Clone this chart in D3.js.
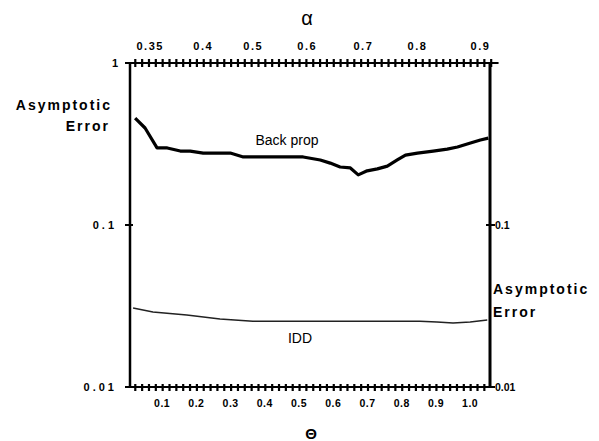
<!DOCTYPE html>
<html>
<head>
<meta charset="utf-8">
<script src="https://cdn.jsdelivr.net/npm/d3@7"></script>
<style>
  body { margin: 0; background: #fff; }
  svg { display: block; }
  text { font-family: "Liberation Sans", Arial, sans-serif; fill: #000; }
</style>
</head>
<body>
<script>
// Backprop curve (theta, asymptotic error)
const bpTheta = [0.021, 0.050, 0.085, 0.115, 0.153, 0.182, 0.220, 0.299, 0.337, 0.512, 0.562, 0.591, 0.620, 0.650, 0.673, 0.699, 0.729, 0.758, 0.787, 0.811, 0.846, 0.892, 0.933, 0.963, 1.001, 1.030, 1.053];
const bpError = [0.457, 0.397, 0.299, 0.299, 0.286, 0.286, 0.278, 0.278, 0.263, 0.263, 0.252, 0.241, 0.228, 0.225, 0.204, 0.216, 0.222, 0.231, 0.252, 0.270, 0.278, 0.286, 0.294, 0.303, 0.321, 0.335, 0.344];

// IDD curve
const iddTheta = [0.015, 0.073, 0.172, 0.269, 0.365, 0.561, 0.757, 0.853, 0.903, 0.950, 1.000, 1.050];
const iddError = [0.0307, 0.0290, 0.0278, 0.0263, 0.0255, 0.0255, 0.0255, 0.0255, 0.0252, 0.0248, 0.0252, 0.0259];

// tick labels
const thetaTicks = [0.1, 0.2, 0.3, 0.4, 0.5, 0.6, 0.7, 0.8, 0.9, 1.0];
const alphaLabels = ["0.35", "0.4", "0.5", "0.6", "0.7", "0.8", "0.9"];
const alphaAt = [0.065, 0.220, 0.366, 0.524, 0.688, 0.846, 1.030];
const errTicks = [1, 0.1, 0.01];

const width = 599, height = 441;
const margin = { top: 63, bottom: 54, left: 130, right: 109 };

let svg = d3.select('body').append('svg')
  .attr('width', width)
  .attr('height', height);

let x = d3.scaleLinear()
  .domain([0.006, 1.058])
  .range([margin.left, width - margin.right]);

let y = d3.scaleLog()
  .domain([0.01, 1])
  .range([height - margin.bottom, margin.top]);

const x0 = margin.left, x1 = width - margin.right;
const y0 = margin.top, y1 = height - margin.bottom;

// frame: left and right axes
svg.append('line').attr('x1', x0).attr('x2', x0).attr('y1', y0).attr('y2', y1)
  .attr('stroke', '#000').attr('stroke-width', 2.5);
svg.append('line').attr('x1', x1).attr('x2', x1).attr('y1', y0).attr('y2', y1 + 1)
  .attr('stroke', '#000').attr('stroke-width', 3);

// bottom axis (theta)
let minorBottom = d3.range(0.02, 1.05, 0.02);
let bottomAxis = svg.append('g')
  .attr('transform', `translate(0, ${y1})`)
  .call(d3.axisBottom(x).tickValues(minorBottom).tickSize(4).tickFormat(''));
bottomAxis.select('.domain').remove();
bottomAxis.selectAll('.tick line').attr('y1', -3).attr('stroke-width', 2.2);
svg.append('line').attr('x1', x0).attr('x2', x1).attr('y1', y1).attr('y2', y1)
  .attr('stroke', '#000').attr('stroke-width', 2);

svg.append('g').selectAll('text')
  .data(thetaTicks)
  .enter().append('text')
  .attr('x', d => x(d))
  .attr('y', 407)
  .attr('text-anchor', 'middle')
  .style('font-size', '10.5px')
  .style('font-weight', 'bold')
  .style('letter-spacing', '0.5px')
  .text(d => d.toFixed(1));

// top axis (alpha)
let minorTop = d3.range(0.02, 1.08, 0.02);
let topAxis = svg.append('g')
  .attr('transform', `translate(0, ${y0})`)
  .call(d3.axisTop(x).tickValues(minorTop).tickSize(4).tickFormat(''));
topAxis.select('.domain').remove();
topAxis.selectAll('.tick line').attr('y1', 4).attr('stroke-width', 2.2);
svg.append('line').attr('x1', x0 - 2).attr('x2', x(1.083)).attr('y1', y0).attr('y2', y0)
  .attr('stroke', '#000').attr('stroke-width', 2);

svg.append('g').selectAll('text')
  .data(alphaLabels)
  .enter().append('text')
  .attr('x', (d, i) => x(alphaAt[i]))
  .attr('y', 50)
  .attr('text-anchor', 'middle')
  .style('font-size', '11px')
  .style('font-weight', 'bold')
  .style('letter-spacing', '1.5px')
  .text(d => d);

// left axis ticks and labels
svg.append('g').selectAll('line')
  .data(errTicks)
  .enter().append('line')
  .attr('x1', x0 - 5).attr('x2', x0 + 3)
  .attr('y1', d => y(d)).attr('y2', d => y(d))
  .attr('stroke', '#000').attr('stroke-width', 2);

svg.append('g').selectAll('text')
  .data(errTicks)
  .enter().append('text')
  .attr('x', d => d === 1 ? 121 : 117)
  .attr('y', d => y(d) + 4)
  .attr('text-anchor', 'end')
  .style('font-size', '11px')
  .style('font-weight', 'bold')
  .style('letter-spacing', '3px')
  .text(d => d === 1 ? '1' : d === 0.1 ? '0.1' : '0.01');

// right axis ticks and labels
svg.append('g').selectAll('line')
  .data(errTicks.slice(1))
  .enter().append('line')
  .attr('x1', x1 - 4).attr('x2', x1 + 5)
  .attr('y1', d => y(d)).attr('y2', d => y(d))
  .attr('stroke', '#000').attr('stroke-width', 2);

svg.append('g').selectAll('text')
  .data(errTicks.slice(1))
  .enter().append('text')
  .attr('x', x1 + 5)
  .attr('y', d => y(d) + 4)
  .attr('text-anchor', 'start')
  .style('font-size', '10.5px')
  .style('font-weight', 'bold')
  .text(d => d === 0.1 ? '0.1' : '0.01');

// axis titles
const titleStyle = sel => sel
  .style('font-size', '14px')
  .style('font-weight', 'bold')
  .style('letter-spacing', '2px');

svg.append('text').attr('x', 112).attr('y', 110).attr('text-anchor', 'end')
  .call(titleStyle).text('Asymptotic');
svg.append('text').attr('x', 110).attr('y', 131).attr('text-anchor', 'end')
  .call(titleStyle).text('Error');
svg.append('text').attr('x', 493).attr('y', 294)
  .call(titleStyle).text('Asymptotic');
svg.append('text').attr('x', 493).attr('y', 317)
  .call(titleStyle).text('Error');

svg.append('text').attr('x', 307).attr('y', 25).attr('text-anchor', 'middle')
  .style('font-size', '20px').text('α');
svg.append('text').attr('x', 311).attr('y', 439).attr('text-anchor', 'middle')
  .style('font-size', '15px').style('font-weight', 'bold').text('Θ');

// curves
let line = d3.line()
  .x(d => x(d[0]))
  .y(d => y(d[1]));

svg.append('path')
  .datum(bpTheta.map((t, i) => [t, bpError[i]]))
  .attr('d', line)
  .attr('fill', 'none')
  .attr('stroke', '#000')
  .attr('stroke-width', 3.2)
  .attr('stroke-linejoin', 'round');

svg.append('path')
  .datum(iddTheta.map((t, i) => [t, iddError[i]]))
  .attr('d', line)
  .attr('fill', 'none')
  .attr('stroke', '#222')
  .attr('stroke-width', 1.5);

// curve labels
svg.append('text').attr('x', 287).attr('y', 145).attr('text-anchor', 'middle')
  .style('font-size', '14px').text('Back prop');
svg.append('text').attr('x', 300).attr('y', 343).attr('text-anchor', 'middle')
  .style('font-size', '14px').text('IDD');
</script>
</body>
</html>
